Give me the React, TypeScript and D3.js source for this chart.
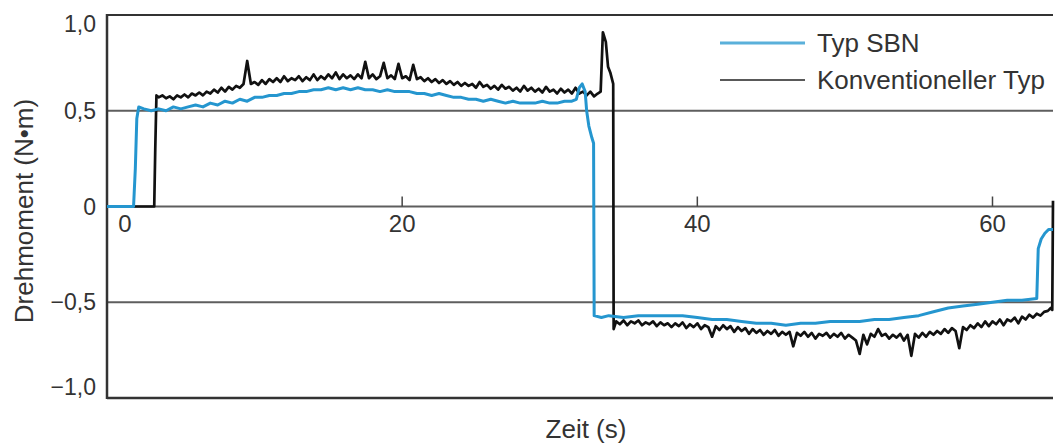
import React from "react";
import * as d3 from "d3";

// Typ SBN (blue): [time s, torque N·m]
const sbnPoints: [number, number][] = [
  [0, 0], [1.8, 0], [1.92, 0.2], [2.02, 0.46], [2.15, 0.52], [2.5, 0.51], [3, 0.5], [3.5, 0.51], [4, 0.5], [4.5, 0.52],
  [5, 0.51], [5.5, 0.52], [6, 0.53], [6.5, 0.52], [7, 0.54], [7.5, 0.53], [8, 0.55], [8.5, 0.54], [9, 0.56], [9.5, 0.55],
  [10, 0.57], [10.5, 0.57], [11, 0.58], [11.5, 0.58], [12, 0.59], [12.5, 0.59], [13, 0.6], [13.5, 0.6], [14, 0.61], [14.5, 0.61],
  [15, 0.62], [15.5, 0.61], [16, 0.62], [16.5, 0.61], [17, 0.62], [17.5, 0.61], [18, 0.61], [18.5, 0.6], [19, 0.61], [19.5, 0.6],
  [20, 0.6], [20.5, 0.6], [21, 0.59], [21.5, 0.59], [22, 0.58], [22.5, 0.59], [23, 0.58], [23.5, 0.57], [24, 0.57], [24.5, 0.56],
  [25, 0.56], [25.5, 0.55], [26, 0.56], [26.5, 0.55], [27, 0.54], [27.5, 0.55], [28, 0.54], [28.5, 0.54], [29, 0.54], [29.5, 0.55],
  [30, 0.54], [30.5, 0.54], [31, 0.55], [31.5, 0.55], [31.8, 0.56], [32, 0.62], [32.2, 0.64], [32.4, 0.6], [32.5, 0.5],
  [32.65, 0.42], [32.85, 0.36], [32.97, 0.33], [33.01, -0.57],
  [33.5, -0.58], [34, -0.57], [35, -0.58], [36, -0.57], [37, -0.57], [38, -0.57], [39, -0.57], [40, -0.58], [41, -0.59], [42, -0.59],
  [43, -0.6], [44, -0.61], [45, -0.61], [46, -0.62], [47, -0.61], [48, -0.61], [49, -0.6], [50, -0.6], [51, -0.6], [52, -0.59],
  [53, -0.59], [54, -0.58], [55, -0.57], [56, -0.55], [57, -0.53], [58, -0.52], [59, -0.51], [60, -0.5], [61, -0.49], [62, -0.49],
  [63, -0.48], [63.1, -0.22], [63.3, -0.17], [63.55, -0.14], [63.8, -0.12], [64.1, -0.12],
];

// Konventioneller Typ (black): [time s, torque N·m]
const convPoints: [number, number][] = [
  [0, 0], [3.2, 0], [3.27, 0.3], [3.35, 0.58],
  [3.5, 0.57], [3.75, 0.58], [4, 0.565], [4.25, 0.575], [4.5, 0.56], [4.75, 0.58], [5, 0.57], [5.25, 0.585], [5.5, 0.57], [5.75, 0.59],
  [6, 0.58], [6.25, 0.595], [6.5, 0.58], [6.75, 0.6], [7, 0.59], [7.25, 0.61], [7.5, 0.595], [7.75, 0.62], [8, 0.6], [8.25, 0.625],
  [8.5, 0.61], [8.75, 0.63], [9, 0.62], [9.25, 0.64], [9.5, 0.76], [9.75, 0.64], [10, 0.65], [10.25, 0.635], [10.5, 0.66], [10.75, 0.64],
  [11, 0.665], [11.25, 0.65], [11.5, 0.67], [11.75, 0.65], [12, 0.68], [12.25, 0.655], [12.5, 0.67], [12.75, 0.66], [13, 0.68], [13.25, 0.655],
  [13.5, 0.675], [13.75, 0.66], [14, 0.69], [14.25, 0.66], [14.5, 0.68], [14.75, 0.665], [15, 0.69], [15.25, 0.67], [15.5, 0.7], [15.75, 0.665],
  [16, 0.69], [16.25, 0.67], [16.5, 0.685], [16.75, 0.665], [17, 0.69], [17.25, 0.67], [17.5, 0.755], [17.75, 0.67], [18, 0.69], [18.25, 0.665],
  [18.5, 0.68], [18.75, 0.75], [19, 0.67], [19.25, 0.685], [19.5, 0.665], [19.75, 0.745], [20, 0.67], [20.25, 0.68], [20.5, 0.66], [20.75, 0.74],
  [21, 0.665], [21.25, 0.675], [21.5, 0.655], [21.75, 0.67], [22, 0.65], [22.25, 0.665], [22.5, 0.645], [22.75, 0.66], [23, 0.64], [23.25, 0.655],
  [23.5, 0.635], [23.75, 0.65], [24, 0.63], [24.25, 0.645], [24.5, 0.63], [24.75, 0.64], [25, 0.62], [25.25, 0.65], [25.5, 0.625], [25.75, 0.635],
  [26, 0.615], [26.25, 0.63], [26.5, 0.61], [26.75, 0.635], [27, 0.615], [27.25, 0.625], [27.5, 0.605], [27.75, 0.62], [28, 0.6], [28.25, 0.63],
  [28.5, 0.605], [28.75, 0.62], [29, 0.6], [29.25, 0.615], [29.5, 0.595], [29.75, 0.625], [30, 0.6], [30.25, 0.61], [30.5, 0.59], [30.75, 0.615],
  [31, 0.595], [31.25, 0.61], [31.5, 0.59], [31.75, 0.62], [32, 0.59], [32.25, 0.6], [32.5, 0.58], [32.75, 0.6], [33, 0.575], [33.25, 0.59],
  [33.45, 0.6], [33.6, 0.91], [33.8, 0.86], [33.95, 0.73], [34.1, 0.7], [34.3, 0.64], [34.33, -0.64],
  [34.5, -0.6], [34.75, -0.615], [35, -0.595], [35.25, -0.62], [35.5, -0.6], [35.75, -0.61], [36, -0.595], [36.25, -0.62], [36.5, -0.605], [36.75, -0.615],
  [37, -0.6], [37.25, -0.625], [37.5, -0.605], [37.75, -0.62], [38, -0.61], [38.25, -0.63], [38.5, -0.61], [38.75, -0.625], [39, -0.605], [39.25, -0.635],
  [39.5, -0.615], [39.75, -0.63], [40, -0.61], [40.25, -0.64], [40.5, -0.62], [40.75, -0.63], [41, -0.68], [41.25, -0.625], [41.5, -0.645], [41.75, -0.62],
  [42, -0.64], [42.25, -0.625], [42.5, -0.655], [42.75, -0.63], [43, -0.65], [43.25, -0.635], [43.5, -0.665], [43.75, -0.64], [44, -0.66], [44.25, -0.645],
  [44.5, -0.67], [44.75, -0.65], [45, -0.665], [45.25, -0.645], [45.5, -0.675], [45.75, -0.655], [46, -0.67], [46.25, -0.655], [46.5, -0.73], [46.75, -0.66],
  [47, -0.675], [47.25, -0.655], [47.5, -0.68], [47.75, -0.66], [48, -0.69], [48.25, -0.665], [48.5, -0.675], [48.75, -0.66], [49, -0.685], [49.25, -0.665],
  [49.5, -0.68], [49.75, -0.66], [50, -0.69], [50.25, -0.67], [50.5, -0.685], [50.75, -0.7], [51, -0.77], [51.25, -0.67], [51.5, -0.72], [51.75, -0.665],
  [52, -0.68], [52.25, -0.64], [52.5, -0.675], [52.75, -0.665], [53, -0.69], [53.25, -0.67], [53.5, -0.685], [53.75, -0.665], [54, -0.7], [54.25, -0.67],
  [54.5, -0.78], [54.75, -0.665], [55, -0.685], [55.25, -0.66], [55.5, -0.68], [55.75, -0.655], [56, -0.67], [56.25, -0.65], [56.5, -0.665], [56.75, -0.64],
  [57, -0.66], [57.25, -0.635], [57.5, -0.65], [57.75, -0.74], [58, -0.63], [58.25, -0.645], [58.5, -0.62], [58.75, -0.635], [59, -0.61], [59.25, -0.63],
  [59.5, -0.6], [59.75, -0.625], [60, -0.6], [60.25, -0.615], [60.5, -0.59], [60.75, -0.62], [61, -0.59], [61.25, -0.6], [61.5, -0.58], [61.75, -0.61],
  [62, -0.575], [62.25, -0.59], [62.5, -0.565], [62.75, -0.58], [63, -0.56], [63.25, -0.57], [63.5, -0.55], [63.75, -0.545], [63.95, -0.53], [64.05, -0.54],
  [64.1, 0.03],
];

const yTicks = [1, 0.5, 0, -0.5, -1];
const yTickLabels = ["1,0", "0,5", "0", "\u22120,5", "\u22121,0"];
const xTicks = [0, 20, 40, 60];
const xTickLabels = ["0", "20", "40", "60"];
const legendLabels = ["Typ SBN", "Konventioneller Typ"];
const seriesColors = ["#2596cf", "#111111"];

const W = 1056, H = 445;
const margin = { top: 15, right: 3, bottom: 47, left: 107 };
const font = "'Liberation Sans', Arial, sans-serif";

export default function App() {
  const x = d3.scaleLinear().domain([0, 64.1]).range([margin.left, W - margin.right]);
  const y = d3.scaleLinear().domain([-1, 1]).range([H - margin.bottom, margin.top]);

  const line = d3.line<[number, number]>().x(d => x(d[0])).y(d => y(d[1]));
  const x0 = x.range()[0], x1 = x.range()[1];

  return (
    <svg width={W} height={H} style={{ position: "absolute", left: 0, top: 0, background: "#fff" }}>
      {/* grid lines */}
      {[0.5, 0, -0.5].map(v => (
        <line key={v} x1={x0} x2={x1} y1={y(v)} y2={y(v)} stroke="#5e5e5e" strokeWidth={2} />
      ))}
      <line x1={x0} x2={x1} y1={y(1)} y2={y(1)} stroke="#333" strokeWidth={2} />
      <line x1={x0} x2={x1} y1={y(-1)} y2={y(-1)} stroke="#333" strokeWidth={2.5} />
      <line x1={x0} x2={x0} y1={y(1) - 1} y2={y(-1) + 1} stroke="#333" strokeWidth={2.5} />

      {/* x ticks on zero line */}
      {xTicks.filter(t => t > 0).map(t => (
        <line key={t} x1={x(t)} x2={x(t)} y1={y(0) - 10} y2={y(0)} stroke="#444" strokeWidth={1.5} />
      ))}
      {xTicks.map((t, i) => (
        <text key={t} x={Math.max(x(t), x0 + 18)} y={y(0) + 25} textAnchor="middle"
          fontFamily={font} fontSize={24} fill="#333">{xTickLabels[i]}</text>
      ))}

      {/* y tick labels */}
      {yTicks.map((v, i) => {
        const cy = Math.min(Math.max(y(v), y(1) + 9), y(-1) - 11);
        return (
          <text key={v} x={96} y={cy + 8} textAnchor="end" fontFamily={font} fontSize={23} fill="#333">
            {yTickLabels[i]}
          </text>
        );
      })}

      {/* series */}
      <path d={line(convPoints) ?? ""} fill="none" stroke={seriesColors[1]} strokeWidth={2.7} strokeLinejoin="round" />
      <path d={line(sbnPoints) ?? ""} fill="none" stroke={seriesColors[0]} strokeWidth={3} strokeLinejoin="round" />

      {/* legend */}
      {legendLabels.map((lab, i) => (
        <g key={lab} transform={`translate(720, ${43 + i * 37})`}>
          <line x1={0} x2={85} y1={0} y2={0} stroke={i === 0 ? "#5ab0da" : "#222"} strokeWidth={i === 0 ? 3 : 1.5} />
          <text x={97} y={9} fontFamily={font} fontSize={26} fill="#333">{lab}</text>
        </g>
      ))}

      {/* axis titles */}
      <text x={586} y={438} textAnchor="middle" fontFamily={font} fontSize={26} fill="#333">Zeit (s)</text>
      <text transform={`translate(33, 211) rotate(-90)`} textAnchor="middle"
        fontFamily={font} fontSize={26} fill="#333">Drehmoment (N•m)</text>
    </svg>
  );
}
